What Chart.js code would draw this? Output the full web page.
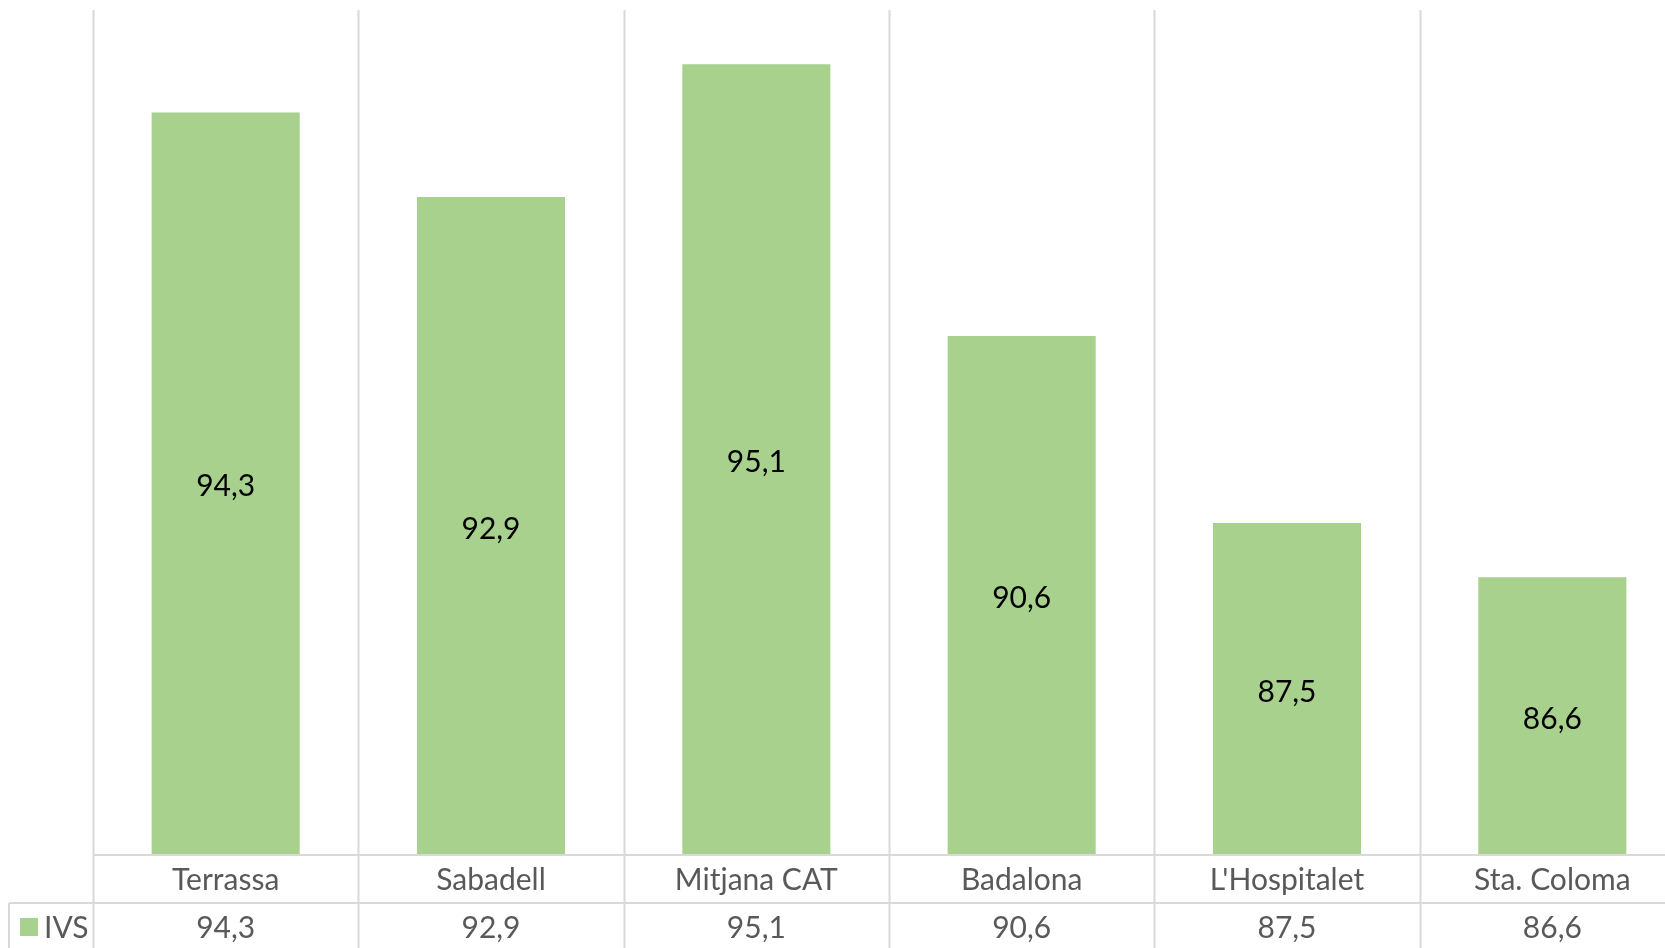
<!DOCTYPE html>
<html lang="ca">
  <head>
    <meta charset="UTF-8" />
    <title>IVS</title>
    <style>
      html,
      body {
        margin: 0;
        padding: 0;
        background: #fff;
        overflow: hidden;
        width: 1665px;
        height: 948px;
      }
      canvas {
        display: block;
      }
    </style>
  </head>
  <body>
    <canvas id="chart" width="1700" height="948"></canvas>
    <script src="https://cdn.jsdelivr.net/npm/chart.js@4.4.1/dist/chart.umd.min.js"></script>
    <script>
      const categories = [
        "Terrassa",
        "Sabadell",
        "Mitjana CAT",
        "Badalona",
        "L'Hospitalet",
        "Sta. Coloma",
      ];
      const seriesName = "IVS";
      const ivsValues = [94.3, 92.9, 95.1, 90.6, 87.5, 86.6];

      const barColor = "#a9d18e";
      const gridColor = "#d9d9d9";
      const textColor = "#595959";
      const fontFamily = "Lato, 'Open Sans', sans-serif";

      const fmt = (v) => v.toFixed(1).replace(".", ",");

      // Excel-style data table below the plot, plus labels inside the bars.
      const tablePlugin = {
        id: "dataTable",
        afterDraw(chart) {
          const { ctx, chartArea, scales } = chart;
          const x = scales.x;
          const y = scales.y;
          const half = (x.getPixelForValue(1) - x.getPixelForValue(0)) / 2;
          const rowH = 48;
          const axisY = chartArea.bottom;
          const rowY = axisY + rowH;
          const bottom = chart.height;
          const legendLeft = 9;

          ctx.save();
          ctx.strokeStyle = gridColor;
          ctx.lineWidth = 2;
          ctx.beginPath();
          // vertical boundaries
          for (let i = 0; i <= categories.length; i++) {
            const px = Math.round(x.getPixelForValue(i) - half) + 0.5;
            ctx.moveTo(px, chartArea.top);
            ctx.lineTo(px, bottom);
          }
          ctx.moveTo(legendLeft, rowY);
          ctx.lineTo(legendLeft, bottom);
          // horizontal rows
          ctx.moveTo(chartArea.left, axisY);
          ctx.lineTo(chart.width, axisY);
          ctx.moveTo(legendLeft, rowY);
          ctx.lineTo(chart.width, rowY);
          ctx.stroke();

          ctx.font = "30px " + fontFamily;
          ctx.textAlign = "center";
          ctx.textBaseline = "middle";
          ctx.fillStyle = textColor;
          categories.forEach((c, i) => {
            const px = x.getPixelForValue(i);
            ctx.fillText(c, px, axisY + rowH / 2 + 1);
            ctx.fillText(fmt(ivsValues[i]), px, rowY + rowH / 2 + 1);
          });

          // legend key
          ctx.fillStyle = barColor;
          ctx.fillRect(20, 918, 18, 18);
          ctx.fillStyle = textColor;
          ctx.textAlign = "left";
          ctx.fillText(seriesName, 44, rowY + rowH / 2 + 1);

          // value labels centred in bars
          ctx.fillStyle = "#000000";
          ctx.textAlign = "center";
          ivsValues.forEach((v, i) => {
            const px = x.getPixelForValue(i);
            const top = y.getPixelForValue(v);
            const base = y.getPixelForValue(y.min);
            ctx.fillText(fmt(v), px, (top + base) / 2 + 3);
          });
          ctx.restore();
        },
      };

      new Chart(document.getElementById("chart"), {
        type: "bar",
        data: {
          labels: categories,
          datasets: [
            {
              label: seriesName,
              data: ivsValues,
              backgroundColor: barColor,
              borderWidth: 0,
              barPercentage: 1,
              categoryPercentage: 0.558,
            },
          ],
        },
        options: {
          responsive: false,
          animation: false,
          layout: {
            padding: { left: 93, right: 15, top: 10, bottom: 93 },
          },
          scales: {
            x: { display: false },
            y: { display: false, min: 82, max: 96 },
          },
          plugins: {
            legend: { display: false },
            tooltip: { enabled: false },
          },
        },
        plugins: [tablePlugin],
      });
    </script>
  </body>
</html>
